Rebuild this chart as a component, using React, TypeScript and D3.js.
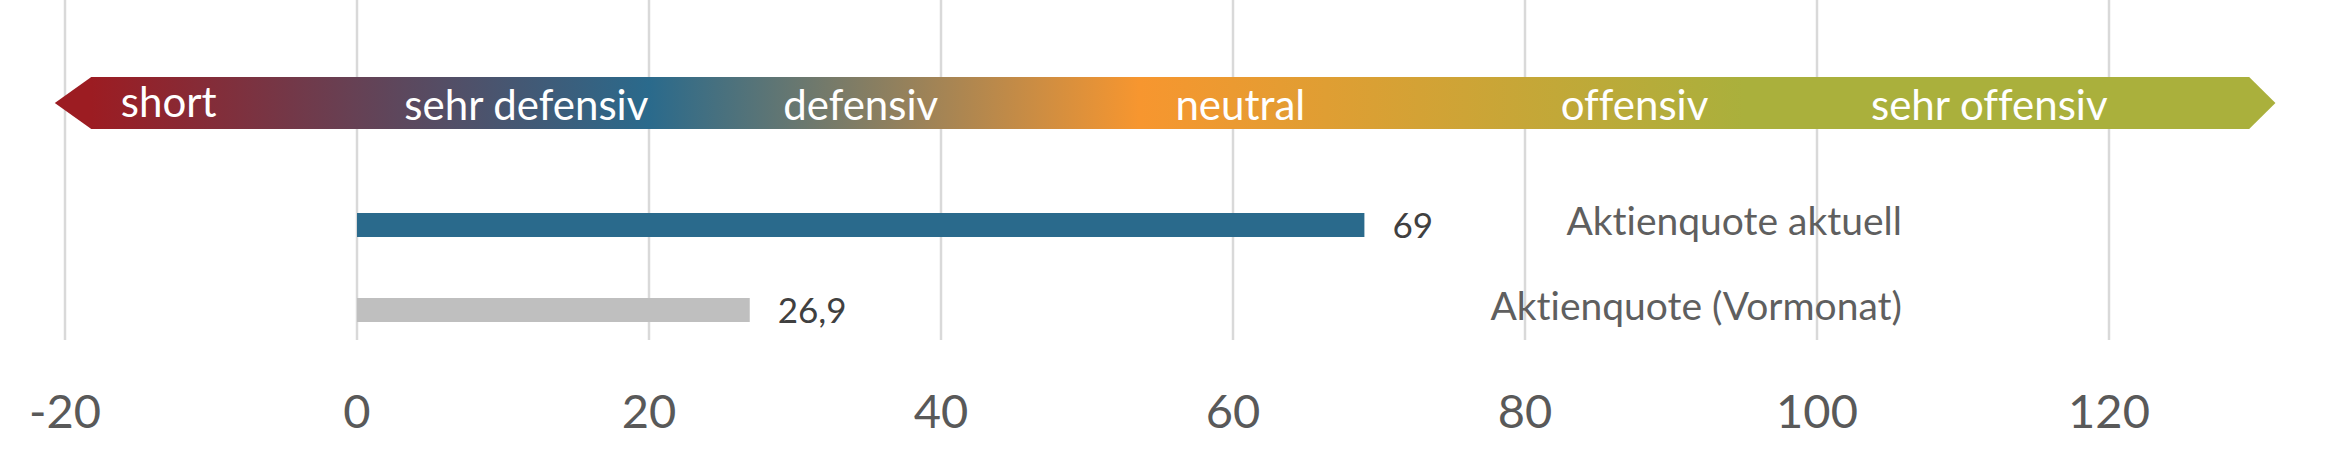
import React, { useEffect, useRef } from "react";
import * as d3 from "d3";

// scale ticks
const tickValues = [-20, 0, 20, 40, 60, 80, 100, 120];

// zones on the arrow (label and its centre on the value axis)
const zoneLabels = ["short", "sehr defensiv", "defensiv", "neutral", "offensiv", "sehr offensiv"];
const zoneCenters = [-12.9, 11.6, 34.5, 60.5, 87.5, 111.8];

// gradient of the arrow: value on the axis -> colour
const gradientValues = [-18.2, 20, 53.6, 95];
const gradientColors = ["#9C1C22", "#2A6A8C", "#F7962F", "#AAB03C"];

// arrow extent on the value axis
const arrowExtent = [-20.7, -18.2, 129.6, 131.4];

// bars
const categories = ["Aktienquote aktuell", "Aktienquote (Vormonat)"];
const values = [69, 26.9];
const barColors = ["#2A6A8C", "#BFBFBF"];

const W = 2328;
const H = 450;

const App: React.FC = () => {
  const ref = useRef<SVGSVGElement | null>(null);

  useEffect(() => {
    if (!ref.current) return;
    const svg = d3.select(ref.current);
    svg.selectAll("*").remove();

    const x = d3.scaleLinear().domain([-20, 120]).range([65, 2109]);
    const y = d3.scalePoint<string>().domain(categories).range([225, 310]);
    const barH = 24;
    const fmt = (v: number) => String(v).replace(".", ",");

    // gridlines
    svg
      .append("g")
      .selectAll("line")
      .data(tickValues)
      .enter()
      .append("line")
      .attr("x1", (d) => x(d))
      .attr("x2", (d) => x(d))
      .attr("y1", 0)
      .attr("y2", 340)
      .attr("stroke", "#D9D9D9")
      .attr("stroke-width", 2.5);

    // tick labels
    svg
      .append("g")
      .selectAll("text")
      .data(tickValues)
      .enter()
      .append("text")
      .attr("x", (d) => x(d))
      .attr("y", 428)
      .attr("text-anchor", "middle")
      .attr("font-family", "Lato")
      .attr("font-size", 47)
      .attr("fill", "#595959")
      .text((d) => String(d));

    // gradient arrow
    const grad = svg
      .append("defs")
      .append("linearGradient")
      .attr("id", "arrowGrad")
      .attr("gradientUnits", "userSpaceOnUse")
      .attr("x1", 0)
      .attr("x2", W)
      .attr("y1", 0)
      .attr("y2", 0);
    gradientValues.forEach((v, i) => {
      grad
        .append("stop")
        .attr("offset", x(v) / W)
        .attr("stop-color", gradientColors[i]);
    });

    const top = 77;
    const bottom = 129;
    const mid = (top + bottom) / 2;
    const [tipL, bodyL, bodyR, tipR] = arrowExtent.map((v) => x(v));
    const arrowPts: [number, number][] = [
      [tipL, mid],
      [bodyL, top],
      [bodyR, top],
      [tipR, mid],
      [bodyR, bottom],
      [bodyL, bottom],
    ];
    svg
      .append("path")
      .attr("d", d3.line()(arrowPts) + "Z")
      .attr("fill", "url(#arrowGrad)");

    svg
      .append("g")
      .selectAll("text")
      .data(zoneLabels)
      .enter()
      .append("text")
      .attr("x", (_, i) => x(zoneCenters[i]))
      .attr("y", (_, i) => (i === 0 ? 117 : 120))
      .attr("text-anchor", "middle")
      .attr("font-family", "Lato")
      .attr("font-size", 42)
      .attr("fill", "#FFFFFF")
      .style("font-variant-ligatures", "none")
      .text((d) => d);

    // bars
    svg
      .append("g")
      .selectAll("rect")
      .data(values)
      .enter()
      .append("rect")
      .attr("x", x(0))
      .attr("y", (_, i) => (y(categories[i]) || 0) - barH / 2)
      .attr("width", (d) => x(d) - x(0))
      .attr("height", barH)
      .attr("fill", (_, i) => barColors[i]);

    // value labels
    svg
      .append("g")
      .selectAll("text")
      .data(values)
      .enter()
      .append("text")
      .attr("x", (d) => x(d) + 28)
      .attr("y", (_, i) => (y(categories[i]) || 0) + 13)
      .attr("font-family", "Lato")
      .attr("font-size", 35)
      .attr("fill", "#404040")
      .text((d) => fmt(d));

    // category labels on the right
    svg
      .append("g")
      .selectAll("text")
      .data(categories)
      .enter()
      .append("text")
      .attr("x", 1902)
      .attr("y", (d) => (y(d) || 0) + 10)
      .attr("text-anchor", "end")
      .attr("font-family", "Lato")
      .attr("font-size", 39)
      .attr("fill", "#5F5F5F")
      .style("font-variant-ligatures", "none")
      .text((d) => d);
  }, []);

  return (
    <svg
      ref={ref}
      width={W}
      height={H}
      style={{ position: "absolute", left: 0, top: 0, background: "#fff" }}
    />
  );
};

export default App;
